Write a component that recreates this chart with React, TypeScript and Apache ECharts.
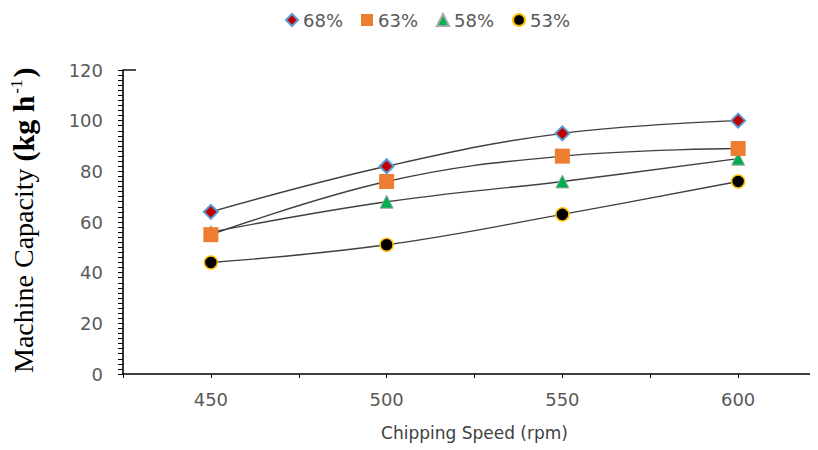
import React, { useEffect, useRef } from "react";
import * as echarts from "echarts";

const speeds = [450, 500, 550, 600];
const seriesNames = ["68%", "63%", "58%", "53%"];
const cap68 = [64, 82, 95, 100];
const cap63 = [55, 76, 86, 89];
const cap58 = [56, 68, 76, 85];
const cap53 = [44, 51, 63, 76];
const xLabelValues = [450, 500, 550, 600];

const FONT = "DejaVu Sans";
const GRAY = "#595959";

export default function App() {
  const ref = useRef<HTMLDivElement>(null);
  useEffect(() => {
    if (!ref.current) return;
    const chart = echarts.init(ref.current, undefined, { renderer: "svg" });
    const pair = (ys: number[]) => speeds.map((x, i) => [x, ys[i]]);
    const lineStyle = { color: "#404040", width: 1.4 };
    const markerDefs = [
      { symbol: "diamond", size: 14, itemStyle: { color: "#C00000", borderColor: "#5B9BD5", borderWidth: 2 } },
      { symbol: "rect", size: 15, itemStyle: { color: "#ED7D31", borderWidth: 0 } },
      { symbol: "triangle", size: 13, itemStyle: { color: "#00B050", borderColor: "#A6A6A6", borderWidth: 1 } },
      { symbol: "circle", size: 13, itemStyle: { color: "#000000", borderColor: "#FFC000", borderWidth: 1.5 } },
    ];
    const values = [cap68, cap63, cap58, cap53];
    const series = seriesNames.map((name, i) => ({
      name,
      type: "line",
      data: pair(values[i]),
      smooth: 0.4,
      symbol: markerDefs[i].symbol,
      symbolSize: markerDefs[i].size,
      itemStyle: markerDefs[i].itemStyle,
      lineStyle,
      z: 10 - i,
    }));
    chart.setOption({
      animation: false,
      backgroundColor: "#ffffff",
      legend: {
        top: 3,
        left: 277,
        padding: 0,
        itemWidth: 12,
        itemHeight: 12,
        itemGap: 18,
        textStyle: { fontFamily: FONT, fontSize: 18, color: GRAY },
        data: seriesNames.map((n, i) => ({ name: n, icon: markerDefs[i].symbol })),
      },
      grid: { left: 115, right: 12, top: 62, bottom: 76 },
      xAxis: {
        type: "value",
        min: 425,
        max: 625,
        interval: 25,
        name: "Chipping Speed (rpm)",
        nameLocation: "middle",
        nameGap: 50,
        nameTextStyle: { fontFamily: FONT, fontSize: 17, color: "#404040" },
        axisLine: { show: true, lineStyle: { color: "#000", width: 1.6 } },
        axisTick: { show: true, inside: false, length: 4, lineStyle: { color: "#000", width: 1 } },
        axisLabel: {
          margin: 16,
          fontFamily: FONT,
          fontSize: 18,
          color: GRAY,
          formatter: (v: number) => (xLabelValues.includes(v) ? String(v) : ""),
        },
        splitLine: { show: false },
      },
      yAxis: {
        type: "value",
        min: 0,
        max: 120,
        interval: 20,
        axisLine: { show: true, lineStyle: { color: "#000", width: 1.6 } },
        axisTick: { show: true, inside: false, length: 5, lineStyle: { color: "#000", width: 1 } },
        minorTick: { show: true, splitNumber: 10, length: 5, lineStyle: { color: "#000", width: 1 } },
        axisLabel: { margin: 20, fontFamily: FONT, fontSize: 18, color: GRAY },
        splitLine: { show: false },
        minorSplitLine: { show: false },
      },
      graphic: [
        {
          type: "line",
          shape: { x1: 115, y1: 62, x2: 128, y2: 62 },
          style: { stroke: "#000", lineWidth: 1.4 },
        },
        {
          type: "text",
          x: 15,
          y: 365,
          rotation: Math.PI / 2,
          style: {
            text: "{a|Machine Capacity }{b|(kg h}{c|-1}{b|)}",
            align: "left",
            textAlign: "left",
            verticalAlign: "middle",
            textVerticalAlign: "middle",
            fill: "#000",
            rich: {
              a: { fontFamily: "Liberation Serif", fontSize: 28, fill: "#000", color: "#000" },
              b: { fontFamily: "Liberation Serif", fontSize: 30, fontWeight: "bold", fill: "#000", color: "#000" },
              c: { fontFamily: "Liberation Serif", fontSize: 17, fill: "#000", color: "#000", verticalAlign: "top", padding: [0, 2, 0, 2] },
            },
          },
        },
      ],
      series,
    });
    return () => chart.dispose();
  }, []);
  return (
    <div style={{ width: 810, height: 442, overflow: "hidden" }}>
      <div ref={ref} style={{ width: 830, height: 442 }} />
    </div>
  );
}
